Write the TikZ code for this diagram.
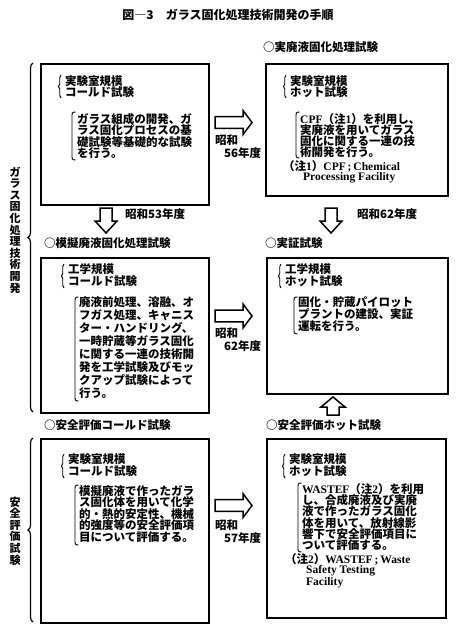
\documentclass[tikz,border=0pt]{standalone}
\usepackage{fontspec}
\setmainfont{Noto Sans CJK JP}
\newfontfamily\latf{Liberation Serif}
\usetikzlibrary{decorations.pathreplacing}
\newcommand{\jpfont}{\bfseries\fontsize{11.5}{12}\selectfont}
\newcommand{\lt}[1]{{\latf\bfseries #1}}
\newcommand{\prn}[3]{\draw[paren] (#1+3.5,#2) .. controls (#1,#2) and (#1,#2+1) .. (#1,#2+5) -- (#1,#3-5) .. controls (#1,#3-1) and (#1,#3) .. (#1+3.5,#3);}
\newcommand{\rarr}[4]{\draw[hollow] (#1,#4-5.8) -- (#2,#4-5.8) -- (#2,#4-12) -- (#3,#4) -- (#2,#4+12) -- (#2,#4+5.8) -- (#1,#4+5.8) -- cycle;}
\newcommand{\darr}[4]{\draw[hollow] (#1-6,#2) -- (#1+6,#2) -- (#1+6,#3) -- (#1+11,#3) -- (#1,#4) -- (#1-11,#3) -- (#1-6,#3) -- cycle;}
\begin{document}
\begin{tikzpicture}[x=1pt,y=-1pt]
\tikzset{
  box/.style={draw, line width=1.7pt, inner sep=0pt, anchor=north west},
  txt/.style={inner sep=0pt, anchor=north west, align=left, font=\bfseries\fontsize{11.5}{#1}\selectfont},
  txt/.default=11.5,
  lbl/.style={inner sep=0pt, anchor=west, font=\jpfont},
  vtxt/.style={inner sep=0pt, anchor=center, align=center, font=\bfseries\fontsize{11}{11.6}\selectfont},
  hollow/.style={draw, line width=1.5pt, fill=white, line join=miter},
  smallbrace/.style={decorate, decoration={brace, amplitude=2.5pt}, line width=0.9pt},
  paren/.style={line width=0.9pt},
  bigbrace/.style={decorate, decoration={brace, amplitude=5pt}, line width=1.2pt}
}
\useasboundingbox[fill=white] (0,0) rectangle (456,637);

% title
\node[inner sep=0pt, font=\bfseries\fontsize{12}{12}\selectfont] (title) at (228,15) {図―3\quad ガラス固化処理技術開発の手順};

% boxes
\node[box, minimum width=168pt, minimum height=141pt] (A) at (40,63) {};
\node[box, minimum width=182pt, minimum height=132pt] (B) at (265,63) {};
\node[box, minimum width=168pt, minimum height=155pt] (C) at (40,257) {};
\node[box, minimum width=181pt, minimum height=136pt] (D) at (266,257) {};
\node[box, minimum width=168pt, minimum height=184pt] (E) at (40,438) {};
\node[box, minimum width=179pt, minimum height=179pt] (F) at (266,438) {};

% section labels
\node[lbl] (lB) at (263,47) {○実廃液固化処理試験};
\node[lbl] (lC) at (44,243) {○模擬廃液固化処理試験};
\node[lbl] (lD) at (265,243) {○実証試験};
\node[lbl] (lE) at (44,425) {○安全評価コールド試験};
\node[lbl] (lF) at (266,425) {○安全評価ホット試験};

% box A
\draw[smallbrace] (61,98) -- (61,75);
\node[txt] (a1) at (65,75) {実験室規模\\コールド試験};
\prn{72}{112}{160}
\node[txt=11.4] (a2) at (77,113) {ガラス組成の開発、ガ\\ラス固化プロセスの基\\礎試験等基礎的な試験\\を行う。};

% box B
\draw[smallbrace] (286,98) -- (286,75);
\node[txt] (b1) at (290,75) {実験室規模\\ホット試験};
\prn{296}{112}{158}
\node[txt=11.2] (b2) at (300,113) {\lt{CPF}（注\lt{1}）を利用し、\\実廃液を用いてガラス\\固化に関する一連の技\\術開発を行う。};
\node[lbl] (b3) at (283,166) {（注\lt{1}）\lt{CPF\,;\,Chemical}};
\node[lbl] (b4) at (303,178) {\lt{Processing Facility}};

% box C
\draw[smallbrace] (64,288) -- (64,264);
\node[txt] (c1) at (68,263.5) {工学規模\\コールド試験};
\prn{75}{297}{401}
\node[txt=13] (c2) at (79,296) {廃液前処理、溶融、オ\\フガス処理、キャニス\\ター・ハンドリング、\\一時貯蔵等ガラス固化\\に関する一連の技術開\\発を工学試験及びモッ\\クアップ試験によって\\行う。};

% box D
\draw[smallbrace] (281,288) -- (281,264);
\node[txt] (d1) at (285,263.5) {工学規模\\ホット試験};
\prn{294}{297}{334}
\node[txt=12] (d2) at (298,296) {固化・貯蔵パイロット\\プラントの建設、実証\\運転を行う。};

% box E
\draw[smallbrace] (64,478) -- (64,454);
\node[txt] (e1) at (68,453.5) {実験室規模\\コールド試験};
\prn{75}{485}{545}
\node[txt=11.6] (e2) at (79,485) {模擬廃液で作ったガラ\\ス固化体を用いて化学\\的・熱的安定性、機械\\的強度等の安全評価項\\目について評価する。};

% box F
\draw[smallbrace] (285,478) -- (285,454);
\node[txt] (f1) at (289,453.5) {実験室規模\\ホット試験};
\prn{298}{483}{552}
\node[txt=11.3] (f2) at (302,483) {\lt{WASTEF}（注\lt{2}）を利用\\し、合成廃液及び実廃\\液で作ったガラス固化\\体を用いて、放射線影\\響下で安全評価項目に\\ついて評価する。};
\node[lbl] (f3) at (285,559) {（注\lt{2}）\lt{WASTEF\,;\,Waste}};
\node[lbl] (f4) at (306,571) {\lt{Safety Testing}};
\node[lbl] (f5) at (306,583) {\lt{Facility}};

% hollow arrows
\rarr{215}{243}{252}{122.5}
\node[lbl] (y1a) at (215,140) {昭和};
\node[lbl] (y1b) at (224,153) {56年度};
\rarr{215}{243}{252}{316}
\node[lbl] (y2a) at (215,333) {昭和};
\node[lbl] (y2b) at (224,346) {62年度};
\rarr{215}{243}{252}{505.5}
\node[lbl] (y3a) at (215,525) {昭和};
\node[lbl] (y3b) at (224,538) {57年度};

\darr{106}{208}{221}{233}
\node[lbl] (y4) at (125,214) {昭和53年度};
\darr{331}{208}{221}{233}
\node[lbl] (y5) at (357,214) {昭和62年度};
\draw[hollow] (327,415) -- (339,415) -- (339,407) -- (345,407) -- (333,397) -- (321,407) -- (327,407) -- cycle;

% big braces and vertical labels
\draw[bigbrace] (33,412) -- (33,63);
\node[vtxt] (g1) at (15,230) {ガ\\ラ\\ス\\固\\化\\処\\理\\技\\術\\開\\発};
\draw[bigbrace] (33,622) -- (33,438);
\node[vtxt] (g2) at (15,531) {安\\全\\評\\価\\試\\験};
\end{tikzpicture}
\end{document}
